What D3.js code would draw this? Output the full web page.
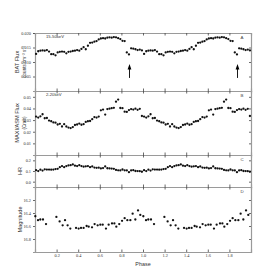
<!DOCTYPE html>
<html>
<head>
<meta charset="utf-8">
<script src="https://cdn.jsdelivr.net/npm/d3@7"></script>
<style>
body { margin: 0; background: #fff; }
svg { display: block; }
</style>
</head>
<body>
<svg id="chart" width="280" height="280"></svg>
<script>
// folded light curve, one cycle (drawn twice: phase and phase+1)
var phases = [0.01,0.03,0.05,0.07,0.09,0.11,0.13,0.15,0.17,0.19,
	0.21,0.23,0.25,0.27,0.29,0.31,0.33,0.35,0.37,0.39,
	0.41,0.43,0.45,0.47,0.49,0.51,0.53,0.55,0.57,0.59,
	0.61,0.63,0.65,0.67,0.69,0.71,0.73,0.75,0.77,0.79,
	0.81,0.83,0.85,0.87,0.89,0.91,0.93,0.95,0.97,0.99];

var batFlux = [0.0128,0.0137,0.0139,0.0140,0.0139,0.0141,0.0136,0.0127,0.0127,0.0123,
	0.0133,0.0135,0.0136,0.0135,0.0130,0.0135,0.0136,0.0138,0.0139,0.0141,
	0.0139,0.0145,0.0151,0.0144,0.0156,0.0166,0.0167,0.0170,0.0172,0.0178,
	0.0181,0.0182,0.0181,0.0184,0.0185,0.0184,0.0186,0.0185,0.0182,0.0179,
	0.0173,0.0172,0.0133,0.0126,0.0147,0.0146,0.0144,0.0141,0.0143,0.0140];

var maxiFlux = [0.0330,0.0322,0.0332,0.0350,0.0316,0.0318,0.0296,0.0290,0.0280,0.0278,
	0.0262,0.0268,0.0245,0.0265,0.0245,0.0236,0.0231,0.0240,0.0258,0.0262,
	0.0270,0.0260,0.0265,0.0284,0.0290,0.0292,0.0308,0.0326,0.0322,0.0330,
	0.0384,0.0390,0.0347,0.0395,0.0398,0.0402,0.0405,0.0458,0.0476,0.0404,
	0.0402,0.0372,0.0370,0.0386,0.0395,0.0390,0.0398,0.0388,0.0397,0.0335];

var hardness = [0.108,0.099,0.112,0.104,0.116,0.113,0.113,0.112,0.113,0.118,
	0.120,0.136,0.146,0.136,0.146,0.152,0.155,0.162,0.150,0.146,
	0.155,0.146,0.141,0.144,0.146,0.136,0.143,0.132,0.130,0.131,
	0.124,0.127,0.143,0.126,0.124,0.123,0.120,0.110,0.106,0.105,
	0.114,0.106,0.105,0.089,0.105,0.108,0.100,0.099,0.098,0.093];

var magPhases = [0.003,0.028,0.049,0.074,0.102,0.198,0.228,0.256,0.278,0.302,
	0.327,0.380,0.404,0.426,0.450,0.478,0.497,0.528,0.552,0.580,
	0.605,0.627,0.657,0.682,0.713,0.735,0.753,0.780,0.806,0.830,
	0.855,0.883,0.904,0.929,0.954,0.975];
var magnitude = [16.45,16.51,16.50,16.50,16.57,16.46,16.53,16.59,16.51,16.59,
	16.64,16.63,16.64,16.63,16.63,16.60,16.61,16.62,16.57,16.59,
	16.58,16.58,16.64,16.58,16.56,16.56,16.61,16.57,16.52,16.48,
	16.51,16.51,16.41,16.50,16.36,16.43];

var phaseTicks = [0.2,0.4,0.6,0.8,1.0,1.2,1.4,1.6,1.8];
var batTicks = [0.005,0.010,0.015,0.020];
var maxiTicks = [0.01,0.02,0.03,0.04,0.05];
var hrTicks = [0.0,0.1,0.2];
var magTicks = [16.2,16.4,16.6,16.8];
var arrowPhases = [0.875,1.875];

var svg = d3.select("#chart");
svg.append("rect").attr("width",280).attr("height",280).attr("fill","#fff");

var x = d3.scaleLinear().domain([0,2]).range([35,251]);

var panels = [
	{id:"A", top:33, bottom:91, domain:[0,0.02], ticks:batTicks, fmt:".3f",
		px:phases, vals:batFlux, title:["BAT Flux","counts cm\u207B\u00B2 s\u207B\u00B9"], band:"15-50keV"},
	{id:"B", top:91, bottom:155, domain:[0,0.055], ticks:maxiTicks, fmt:".2f",
		px:phases, vals:maxiFlux, title:["MAXI/ASM Flux","(Crab)"], band:"2-20keV"},
	{id:"C", top:155, bottom:187, domain:[-0.05,0.25], ticks:hrTicks, fmt:".1f",
		px:phases, vals:hardness, title:["HR"]},
	{id:"D", top:187, bottom:252, domain:[17.0,16.0], ticks:magTicks, fmt:".1f",
		px:magPhases, vals:magnitude, title:["Magnitude"]}
];

var frameColor = "#9a9a9a";

panels.forEach(function(p, i) {
	var y = d3.scaleLinear().domain(p.domain).range([p.bottom, p.top]);
	p.y = y;
	var g = svg.append("g");

	// left axis with labels
	var left = g.append("g").attr("transform","translate(35,0)")
		.call(d3.axisLeft(y).tickValues(p.ticks).tickSize(2).tickPadding(2).tickFormat(d3.format(p.fmt)));
	// right axis, inward ticks
	var right = g.append("g").attr("transform","translate(251,0)")
		.call(d3.axisRight(y).tickValues(p.ticks).tickSize(-2).tickFormat(""));
	// top and bottom, inward ticks
	var top = g.append("g").attr("transform","translate(0,"+p.top+")")
		.call(d3.axisTop(x).tickValues(phaseTicks).tickSize(-2.5).tickFormat(""));
	var bottom = g.append("g").attr("transform","translate(0,"+p.bottom+")")
		.call(d3.axisBottom(x).tickValues(phaseTicks).tickSize(-2.5).tickPadding(2)
			.tickFormat(i===panels.length-1 ? d3.format(".1f") : ""));

	[left,right,top,bottom].forEach(function(a) {
		a.select(".domain").attr("stroke",frameColor).attr("stroke-width",1.2);
		a.selectAll(".tick line").attr("stroke","#444").attr("stroke-width",0.8);
		a.selectAll(".tick text").attr("fill","#333")
			.style("font-family","'Liberation Serif', serif").style("font-size","4.3px");
	});

	// points, two cycles
	var pts = [];
	for (var c = 0; c < 2; c++) {
		for (var k = 0; k < p.vals.length; k++) {
			pts.push({ph: p.px[k] + c, v: p.vals[k]});
		}
	}
	g.selectAll("circle.pt").data(pts).enter().append("circle")
		.attr("class","pt")
		.attr("cx", function(d) {return x(d.ph)})
		.attr("cy", function(d) {return y(d.v)})
		.attr("r", 1.15)
		.attr("fill","#111");

	// y title
	var cy = (p.top + p.bottom) / 2;
	p.title.forEach(function(t, j) {
		var tx = p.title.length === 1 ? 22 : 19 + j*7;
		svg.append("text")
			.attr("transform","translate("+tx+","+cy+") rotate(-90)")
			.attr("text-anchor","middle")
			.style("font-family","'Liberation Sans', Arial, sans-serif")
			.style("font-size", j===0 ? "5.6px" : "4.6px")
			.attr("fill","#333")
			.text(t);
	});

	if (p.band) {
		svg.append("text").attr("x",46).attr("y",p.top+5)
			.style("font-family","'Liberation Sans', Arial, sans-serif")
			.style("font-size","4.2px").attr("fill","#333").text(p.band);
	}
	svg.append("text").attr("x",242).attr("y",p.top+6)
		.attr("text-anchor","middle")
		.style("font-family","'Liberation Sans', Arial, sans-serif")
		.style("font-size","4.4px").attr("fill","#444").text(p.id);
});

// eclipse arrows in the BAT panel
var yA = panels[0].y;
arrowPhases.forEach(function(ph) {
	var ax = x(ph);
	svg.append("line")
		.attr("x1",ax).attr("x2",ax)
		.attr("y1",yA(0.0045)).attr("y2",yA(0.0078))
		.attr("stroke","#000").attr("stroke-width",0.9);
	var tip = yA(0.0093);
	svg.append("path")
		.attr("d","M"+ax+","+tip+" L"+(ax-1.9)+","+(tip+5.5)+" L"+(ax+1.9)+","+(tip+5.5)+" Z")
		.attr("fill","#000");
});

svg.append("text").attr("x",143).attr("y",266)
	.attr("text-anchor","middle")
	.style("font-family","'Liberation Sans', Arial, sans-serif")
	.style("font-size","5.4px").attr("fill","#333").text("Phase");
</script>
</body>
</html>
